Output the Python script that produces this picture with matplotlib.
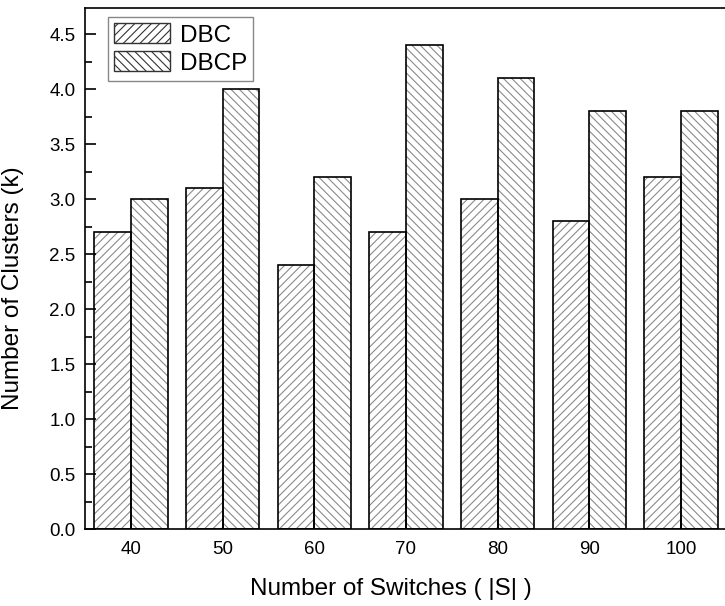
import numpy as np
import matplotlib
matplotlib.use('Agg')
import matplotlib.pyplot as plt
from matplotlib.patches import Patch

plt.rcParams['font.family'] = ['Liberation Sans', 'DejaVu Sans']
plt.rcParams['hatch.linewidth'] = 0.8

# dados
switches = ['40', '50', '60', '70', '80', '90', '100']
dbc = [2.7, 3.1, 2.4, 2.7, 3.0, 2.8, 3.2]
dbcp = [3.0, 4.0, 3.2, 4.4, 4.1, 3.8, 3.8]

fig = plt.figure(figsize=(7.25, 6.06), dpi=100)
ax = fig.add_axes([85 / 725, 1 - 529 / 606, 642 / 725, 521 / 606])

x = np.arange(len(switches))
w = 0.4
hatch_dbc = '////'
hatch_dbcp = '\\\\\\\\'

# hachura em cinza, contorno em preto
ax.bar(x - w / 2, dbc, w, color='white', edgecolor='#8a8a8a', hatch=hatch_dbc, linewidth=0)
ax.bar(x + w / 2, dbcp, w, color='white', edgecolor='#8a8a8a', hatch=hatch_dbcp, linewidth=0)
ax.bar(x - w / 2, dbc, w, fill=False, edgecolor='black', linewidth=1.2)
ax.bar(x + w / 2, dbcp, w, fill=False, edgecolor='black', linewidth=1.2)

# legenda
h1 = Patch(facecolor='white', edgecolor='#333333', hatch=hatch_dbc, linewidth=1.0)
h2 = Patch(facecolor='white', edgecolor='#333333', hatch=hatch_dbcp, linewidth=1.0)
leg = ax.legend([h1, h2], ['DBC', 'DBCP'], loc='upper left', bbox_to_anchor=(0.036, 0.982),
                fontsize=17.5, fancybox=False, edgecolor='#888888', framealpha=1,
                handlelength=2.3, handleheight=0.85, borderpad=0.25, labelspacing=0.2,
                handletextpad=0.4, borderaxespad=0)
leg.get_frame().set_linewidth(1.0)

ax.set_xlim(-0.5, 6.5)
ax.set_ylim(0, 4.74)
ax.set_xticks(x)
ax.set_xticklabels(switches)
yt = np.arange(0, 4.6, 0.5)
ax.set_yticks(yt)
ax.set_yticklabels([f'{v:.1f}' for v in yt])
ax.set_yticks(np.arange(0.25, 4.6, 0.5), minor=True)
ax.tick_params(axis='both', which='major', direction='in', length=8, width=1.2, labelsize=13.5)
ax.tick_params(axis='y', which='minor', direction='in', length=5, width=1.2)
ax.tick_params(axis='x', pad=9)
ax.tick_params(axis='y', pad=7)
for s in ax.spines.values():
    s.set_linewidth(1.2)

ax.set_xlabel('Number of Switches ( |S| )', fontsize=17.5)
ax.set_ylabel('Number of Clusters (k)', fontsize=17.5)
ax.xaxis.set_label_coords(0.477, -0.095)
ax.yaxis.set_label_coords(-0.095, 0.463)

fig.savefig('out.png', dpi=100)
